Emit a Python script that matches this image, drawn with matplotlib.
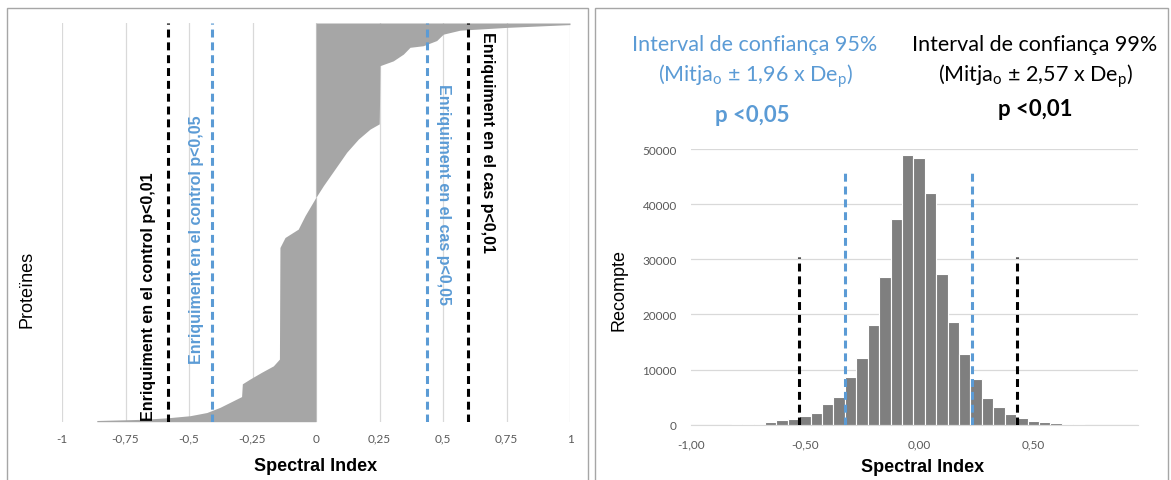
import matplotlib
matplotlib.use("Agg")
import matplotlib.pyplot as plt
from matplotlib.patches import Rectangle

plt.rcParams['font.family'] = ['Liberation Sans', 'DejaVu Sans']

# --- proteins sorted by spectral index (fraction of ranked proteins) ---
rank_frac = [0.0, 0.003, 0.006, 0.010, 0.015, 0.023, 0.036, 0.063, 0.095,
             0.107, 0.124, 0.140, 0.157, 0.437, 0.462, 0.483, 0.517, 0.559,
             0.592, 0.634, 0.676, 0.709, 0.734, 0.747, 0.893, 0.905, 0.922,
             0.939, 0.943, 0.956, 0.972, 0.982, 0.989, 0.996, 1.0]
spectral_idx = [-0.863, -0.863, -0.68, -0.581, -0.496, -0.430, -0.378, -0.293,
                -0.290, -0.26, -0.214, -0.168, -0.144, -0.142, -0.122, -0.070,
                -0.043, -0.004, 0.029, 0.075, 0.121, 0.167, 0.213, 0.249,
                0.252, 0.304, 0.344, 0.370, 0.422, 0.475, 0.501, 0.567, 0.751,
                1.0, 1.0]
left_cut99 = [-0.583, 0.598]
left_cut95 = [-0.409, 0.437]
left_ticks = [-1, -0.75, -0.5, -0.25, 0, 0.25, 0.5, 0.75, 1]
left_ticklabels = ['-1', '-0,75', '-0,5', '-0,25', '0', '0,25', '0,5', '0,75', '1']

# --- histogram of the random spectral index ---
bin_centers = [-0.95, -0.90, -0.85, -0.80, -0.75, -0.70, -0.65, -0.60, -0.55,
               -0.50, -0.45, -0.40, -0.35, -0.30, -0.25, -0.20, -0.15, -0.10,
               -0.05, 0.00, 0.05, 0.10, 0.15, 0.20, 0.25, 0.30, 0.35, 0.40,
               0.45, 0.50, 0.55, 0.60, 0.65, 0.70, 0.75, 0.80, 0.85, 0.90]
counts = [10, 15, 25, 40, 90, 180, 480, 790, 980, 1510, 2120, 3690, 5080,
          8590, 12150, 18080, 26700, 37300, 48900, 48300, 42000, 27300, 18600,
          12800, 8200, 4800, 3300, 1900, 1200, 700, 450, 300, 130, 60, 30, 20,
          10, 5]
right_cut99 = [-0.525, 0.427]
right_cut95 = [-0.324, 0.233]
cut99_height = 30500
cut95_height = 46000
right_ticks = [-1.0, -0.5, 0.0, 0.5]
right_ticklabels = ['-1,00', '-0,50', '0,00', '0,50']
count_ticks = [0, 10000, 20000, 30000, 40000, 50000]

BLUE = '#5B9BD5'
GRID = '#d9d9d9'
TICK = '#595959'
dash = (2.6, 1.6)

W, H = 1171, 481
fig = plt.figure(figsize=(W / 100, H / 100), dpi=100)

# panel frames
for x0, x1 in [(7, 588), (595, 1168)]:
    fig.patches.append(Rectangle((x0 / W, -0.05), (x1 - x0) / W, 1 - 9 / H + 0.05,
                                 transform=fig.transFigure, fill=False,
                                 edgecolor='#a6a6a6', linewidth=1.0))

# ===== left: ranked proteins =====
ax1 = fig.add_axes([62 / W, 1 - 422.7 / H, 508 / W, 398.7 / H])
ax1.fill_betweenx(rank_frac, 0, spectral_idx, color='#a6a6a6', linewidth=0)
for x in left_cut99:
    ax1.axvline(x, color='black', linewidth=2.2, dashes=dash)
for x in left_cut95:
    ax1.axvline(x, color=BLUE, linewidth=2.2, dashes=dash)
ax1.set_xlim(-1, 1)
ax1.set_ylim(0, 1)
ax1.set_xticks(left_ticks)
ax1.set_xticklabels(left_ticklabels, family='Lato', fontsize=8.5, color=TICK)
ax1.set_yticks([])
ax1.tick_params(axis='x', length=0, pad=8)
ax1.grid(axis='x', color=GRID, linewidth=0.9)
ax1.set_axisbelow(True)
for s in ax1.spines.values():
    s.set_visible(False)
ax1.set_xlabel('Spectral Index', fontsize=13, fontweight='bold', va='center')
ax1.xaxis.set_label_coords(0.5, -0.111)
ax1.set_ylabel('Proteïnes', fontsize=13, va='center')
ax1.yaxis.set_label_coords(-0.069, 0.333)

lbl = dict(fontsize=11.5, fontweight='bold', ha='center')
ax1.text(-0.66, 0.005, 'Enriquiment en el control p<0,01', rotation=90,
         va='bottom', color='black', **lbl)
ax1.text(-0.472, 0.458, 'Enriquiment en el control p<0,05', rotation=90,
         va='center', color=BLUE, **lbl)
ax1.text(0.50, 0.573, 'Enriquiment en el cas p<0,05', rotation=270,
         va='center', color=BLUE, **lbl)
ax1.text(0.676, 0.703, 'Enriquiment en el cas p<0,01', rotation=270,
         va='center', color='black', **lbl)

# ===== right: histogram =====
ax2 = fig.add_axes([690.8 / W, 1 - 425.7 / H, 447.5 / W, 275.7 / H])
ax2.bar(bin_centers, counts, width=0.05, color='#7f7f7f', edgecolor='white',
        linewidth=0.8, zorder=2)
for x in right_cut99:
    ax2.plot([x, x], [0, cut99_height], color='black', linewidth=2.2,
             dashes=dash, zorder=3)
for x in right_cut95:
    ax2.plot([x, x], [0, cut95_height], color=BLUE, linewidth=2.2,
             dashes=dash, zorder=3)
ax2.set_xlim(-1.0, 0.96)
ax2.set_ylim(0, 50000)
ax2.set_xticks(right_ticks)
ax2.set_xticklabels(right_ticklabels, family='Lato', fontsize=8.5, color=TICK)
ax2.set_yticks(count_ticks)
ax2.set_yticklabels([str(v) for v in count_ticks], family='Lato', fontsize=8.5,
                    color=TICK)
ax2.tick_params(length=0)
ax2.tick_params(axis='x', pad=10)
ax2.tick_params(axis='y', pad=10)
ax2.grid(axis='y', color=GRID, linewidth=0.9, zorder=0)
ax2.set_axisbelow(True)
for name, s in ax2.spines.items():
    if name == 'bottom':
        s.set_color(GRID)
    else:
        s.set_visible(False)
ax2.set_xlabel('Spectral Index', fontsize=13, fontweight='bold', va='center')
ax2.xaxis.set_label_coords(0.517, -0.150)
ax2.set_ylabel('Recompte', fontsize=13, va='center')
ax2.yaxis.set_label_coords(-0.160, 0.492)

# confidence interval headings
head = dict(family='Lato', fontsize=15.5, ha='center', va='center')
fig.text(755 / W, 1 - 45 / H, 'Interval de confiança 95%', color=BLUE, **head)
fig.text(755 / W, 1 - 76 / H, r'(Mitja$_\mathregular{o}$ ± 1,96 x De$_\mathregular{p}$)',
         color=BLUE, **head)
fig.text(1035 / W, 1 - 45 / H, 'Interval de confiança 99%', color='black', **head)
fig.text(1035 / W, 1 - 76 / H, r'(Mitja$_\mathregular{o}$ ± 2,57 x De$_\mathregular{p}$)',
         color='black', **head)
head['fontsize'] = 16
fig.text(752 / W, 1 - 115 / H, 'p <0,05', color=BLUE, fontweight='bold', **head)
fig.text(1035 / W, 1 - 110 / H, 'p <0,01', color='black', fontweight='bold', **head)

fig.savefig('out.png', dpi=100)
